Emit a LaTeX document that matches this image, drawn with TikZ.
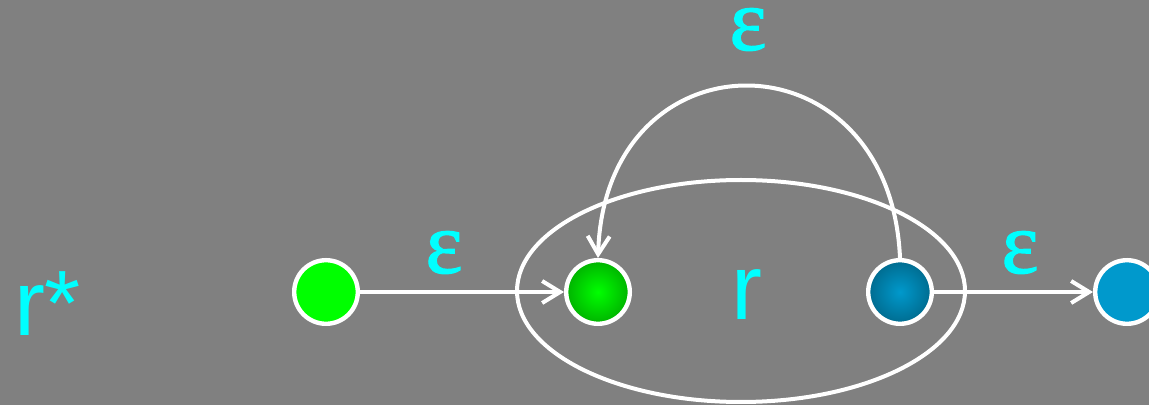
\documentclass[tikz,border=0pt]{standalone}
\usepackage{fontspec}
\setsansfont{Liberation Sans}
\newfontfamily\epsfont[FakeBold=1.3]{Liberation Serif}
\usetikzlibrary{arrows.meta}
\definecolor{bggray}{HTML}{808080}
\definecolor{labelcyan}{HTML}{00FFFF}
\definecolor{startgreen}{HTML}{00FF00}
\definecolor{endblue}{HTML}{0099CC}
\pgfdeclareradialshading{innerstart}{\pgfpoint{0bp}{0bp}}{color(0bp)=(startgreen); color(50bp)=(green!40!black)}
\pgfdeclareradialshading{innerend}{\pgfpoint{0bp}{0bp}}{color(0bp)=(endblue); color(50bp)=(endblue!40!black)}

\begin{document}
\begin{tikzpicture}[x=0.025cm, y=-0.025cm, line width=0.1cm, >={Straight Barb[length=4.5mm, width=5.5mm]},
	state/.style={circle, draw=white, line width=0.11cm, minimum size=1.59cm, inner sep=0pt},
	eps/.style={text=labelcyan, font=\epsfont\fontsize{63}{63}\selectfont, inner sep=0pt},
	rlabel/.style={text=labelcyan, font=\sffamily\fontsize{66}{66}\selectfont, inner sep=0pt}]
	\fill[bggray] (0,0) rectangle (1149,405);
	\useasboundingbox (0,0) rectangle (1149,405);
	\draw[white] (741,291) ellipse [x radius=224, y radius=111];
	\node[rlabel, anchor=base west] (rstar) at (12,336) {r*};
	\node[rlabel, anchor=base] (rmid) at (747,320) {r};
	\node[state, fill=startgreen] (s) at (326,292) {};
	\node[state, shading=innerstart] (i) at (598,292) {};
	\node[state, shading=innerend] (f) at (900,292) {};
	\node[state, fill=endblue] (e) at (1127,292) {};
	\draw[->, white] (s) -- (i);
	\draw[->, white] (f) -- (e);
	\draw[->, white] (f.north) .. controls +(-10,-229) and +(7,-229) .. (i.north);
	\node[eps, anchor=base] (eps1) at (444,273) {ε};
	\node[eps, anchor=base] (eps2) at (1020,273) {ε};
	\node[eps, anchor=base] (eps3) at (748,50) {ε};
\end{tikzpicture}
\end{document}
